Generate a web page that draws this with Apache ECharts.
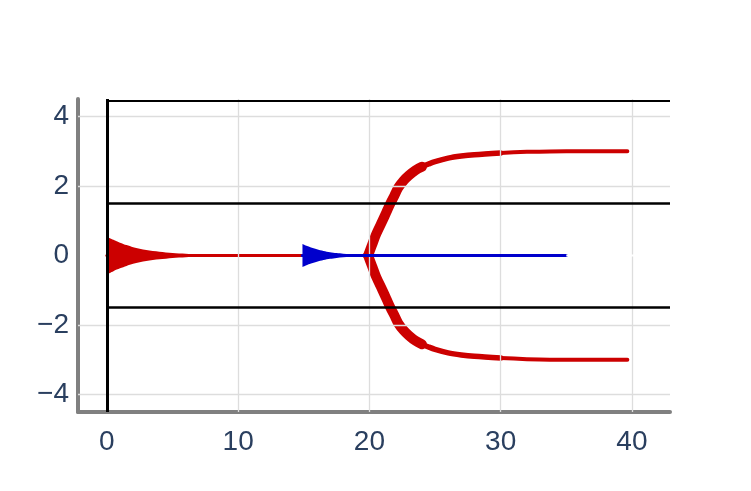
<!DOCTYPE html>
<html>
<head>
<meta charset="utf-8">
<script src="https://cdn.jsdelivr.net/npm/echarts@6/dist/echarts.min.js"></script>
<style>
html,body{margin:0;padding:0;background:#fff;}
#chart{width:751px;height:491px;}
</style>
</head>
<body>
<div id="chart"></div>
<script>
// ---- data ----
const xTicks = [0, 10, 20, 30, 40];
const yTicks = [-4, -2, 0, 2, 4];
const xGridVals = [0, 10, 20, 30, 40];
const yGridVals = [-4, -2, 2, 4];
const xMin = -2.2, xMax = 42.9, yMin = -4.5, yMax = 4.5;

// reference black lines
const refLevels = [1.5, -1.5];
const topLevel = 4.46;
const refVertical = 0;

// red damped oscillation envelope near x = 0
const redEnvX = [0, 0.5, 1, 1.5, 2, 3, 4, 5, 6, 7, 8];
const redEnvUpper = [0.54, 0.45, 0.37, 0.30, 0.24, 0.16, 0.11, 0.07, 0.05, 0.03, 0.02];
const redEnvLower = [-0.54, -0.45, -0.37, -0.30, -0.24, -0.16, -0.11, -0.07, -0.05, -0.03, -0.02];
const redFlatX = [0, 20];
const redFlatY = [0, 0];

// blue damped oscillation envelope near x = 15
const blueEnvX = [14.9, 15.25, 15.5, 16, 16.5, 17, 17.5, 18, 18.5, 19, 20];
const blueEnvUpper = [0.33, 0.27, 0.24, 0.18, 0.13, 0.095, 0.07, 0.05, 0.035, 0.025, 0.01];
const blueEnvLower = [-0.33, -0.27, -0.24, -0.18, -0.13, -0.095, -0.07, -0.05, -0.035, -0.025, -0.01];
const blueFlatX = [14.9, 35];
const blueFlatY = [0, 0];

// white segment at y = 0
const whiteX = [35, 40.3];
const whiteY = [0, 0];

// red bifurcating branches
const branchX = [19.9, 20.2, 20.5, 21.0, 21.3, 21.6, 21.9, 22.2, 22.6, 23.0, 23.5, 24.0, 24.5, 25.0, 26.0, 27.0, 28.0, 30.0, 32.0, 35.0, 39.65];
const branchUpper = [0, 0.3, 0.6, 1.0, 1.25, 1.5, 1.72, 1.95, 2.15, 2.3, 2.45, 2.55, 2.63, 2.7, 2.8, 2.86, 2.9, 2.95, 2.98, 3.0, 3.0];
const branchLower = [0, -0.3, -0.6, -1.0, -1.25, -1.5, -1.72, -1.95, -2.15, -2.3, -2.45, -2.55, -2.63, -2.7, -2.8, -2.86, -2.9, -2.95, -2.98, -3.0, -3.0];

// ---- build ----
const RED = '#cc0000', BLUE = '#0000cc';
const zip = (xs, ys) => xs.map((x, i) => [x, ys[i]]);
const upTo = (xs, ys, lim) => zip(xs, ys).filter(p => p[0] <= lim);

function lineSeries(data, color, width, z, extra) {
  return Object.assign({
    type: 'line', data: data, showSymbol: false, symbol: 'none', silent: true,
    lineStyle: { color: color, width: width, cap: 'round', join: 'round' },
    z: z, animation: false
  }, extra || {});
}
function areaSeries(data, color, z) {
  return {
    type: 'line', data: data, showSymbol: false, symbol: 'none', silent: true, smooth: 0.3,
    lineStyle: { width: 0, color: color }, areaStyle: { color: color, opacity: 1 },
    z: z, animation: false
  };
}

const gridLineStyle = { color: '#dddddd', width: 1.3, type: 'solid' };
const blackStyle = { color: '#000000', width: 2.5, type: 'solid' };

const series = [
  // grid lines
  {
    type: 'line', data: [], silent: true, z: 1, animation: false,
    markLine: {
      silent: true, symbol: 'none', label: { show: false }, animation: false,
      lineStyle: gridLineStyle,
      data: xGridVals.map(v => ({ xAxis: v })).concat(yGridVals.map(v => ({ yAxis: v })))
    }
  },
  // black reference lines
  {
    type: 'line', data: [], silent: true, z: 2, animation: false,
    markLine: {
      silent: true, symbol: 'none', label: { show: false }, animation: false,
      lineStyle: blackStyle,
      data: refLevels.map(v => [{ coord: [refVertical, v] }, { coord: [xMax, v] }])
        .concat([[{ coord: [refVertical, topLevel], lineStyle: { width: 1.8 } }, { coord: [xMax, topLevel] }]])
        .concat([{ xAxis: refVertical, lineStyle: { width: 3 } }])
    }
  },
  // red envelope & flat line
  areaSeries(zip(redEnvX, redEnvUpper), RED, 3),
  areaSeries(zip(redEnvX, redEnvLower), RED, 3),
  lineSeries(zip(redFlatX, redFlatY), RED, 3, 3),
  // red branches
  lineSeries(zip(branchX, branchUpper), RED, 4, 4, { smooth: 0.3 }),
  lineSeries(zip(branchX, branchLower), RED, 4, 4, { smooth: 0.3 }),
  lineSeries(upTo(branchX, branchUpper, 30), RED, 5.5, 4, { smooth: 0.3 }),
  lineSeries(upTo(branchX, branchLower, 30), RED, 5.5, 4, { smooth: 0.3 }),
  lineSeries(upTo(branchX, branchUpper, 24), RED, 10, 4, { smooth: 0.3 }),
  lineSeries(upTo(branchX, branchLower, 24), RED, 10, 4, { smooth: 0.3 }),
  // blue envelope & flat line
  areaSeries(zip(blueEnvX, blueEnvUpper), BLUE, 5),
  areaSeries(zip(blueEnvX, blueEnvLower), BLUE, 5),
  lineSeries(zip(blueFlatX, blueFlatY), BLUE, 3.2, 5),
  // white segment
  lineSeries(zip(whiteX, whiteY), '#ffffff', 2, 6, { lineStyle: { color: '#ffffff', width: 2, cap: 'butt' } })
];

const labelStyle = { color: '#2a3f5f', fontSize: 28, fontFamily: '"Liberation Sans", Arial, sans-serif' };

const option = {
  backgroundColor: '#ffffff',
  animation: false,
  grid: { left: 78, top: 99, width: 592, height: 313, containLabel: false },
  xAxis: {
    type: 'value', min: xMin, max: xMax,
    axisLine: { show: true, onZero: false, lineStyle: { color: '#808080', width: 4 } },
    axisTick: { show: false, customValues: xTicks },
    splitLine: { show: false },
    axisLabel: Object.assign({ customValues: xTicks, margin: 16, formatter: v => String(v) }, labelStyle)
  },
  yAxis: {
    type: 'value', min: yMin, max: yMax,
    axisLine: { show: true, onZero: false, lineStyle: { color: '#808080', width: 4 } },
    axisTick: { show: false, customValues: yTicks },
    splitLine: { show: false },
    axisLabel: Object.assign({ customValues: yTicks, margin: 9, formatter: v => String(v).replace('-', '\u2212') }, labelStyle)
  },
  series: series
};

const chart = echarts.init(document.getElementById('chart'), null, { renderer: 'canvas' });
chart.setOption(option);
</script>
</body>
</html>
